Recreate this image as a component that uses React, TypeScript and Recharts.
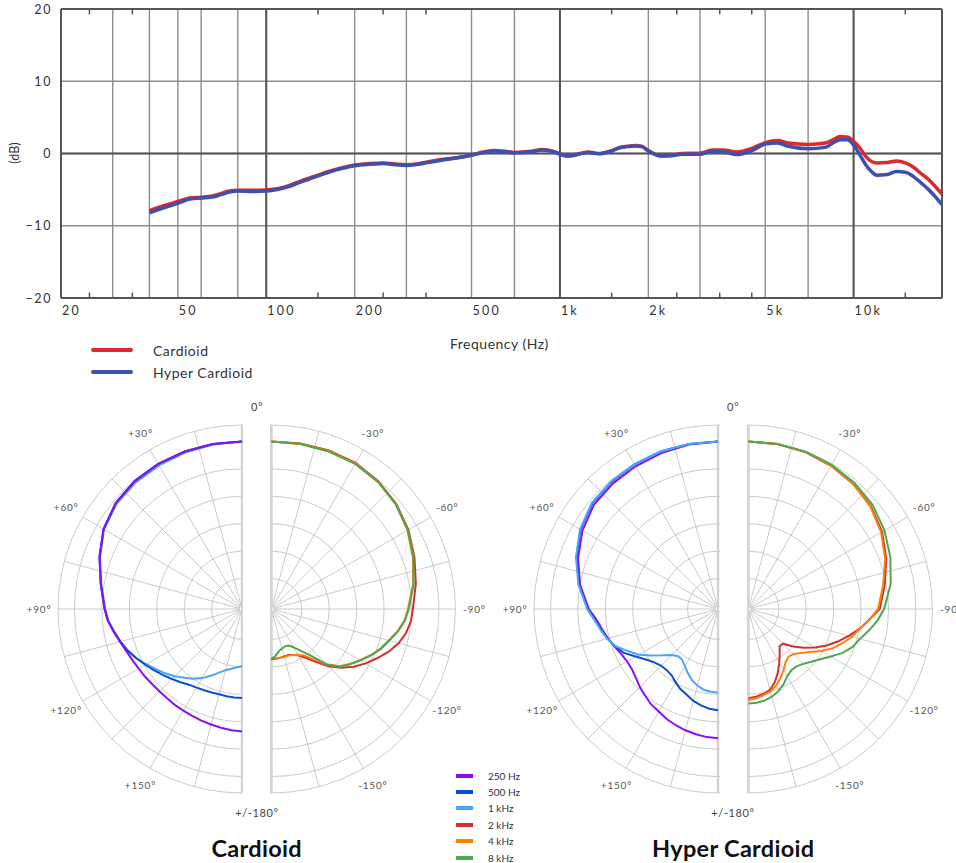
import {
  LineChart, Line, XAxis, YAxis, CartesianGrid, ReferenceLine, Legend,
  RadarChart, Radar, PolarGrid, PolarAngleAxis, PolarRadiusAxis,
} from 'recharts'

// ---- frequency response ----
const FREQ = [
  40, 45, 50, 55, 60, 66, 70, 75, 80, 90,
  100, 110, 120, 130, 140, 150, 160, 180, 200, 225,
  250, 275, 300, 330, 350, 400, 450, 500, 550, 600,
  650, 700, 750, 800, 870, 950, 1000, 1050, 1100, 1200,
  1250, 1350, 1500, 1600, 1700, 1800, 1900, 2000, 2200, 2400,
  2600, 3000, 3300, 3600, 4000, 4500, 5000, 5500, 6000, 7000,
  8000, 8500, 9000, 9500, 10000, 10500, 11000, 11500, 12000, 13000,
  14000, 15000, 16000, 17000, 18000, 19000, 20000,
]
const CARDIOID_DB = [
  -7.9, -7.2, -6.65, -6.15, -6.05, -5.85, -5.55, -5.2, -5.1, -5.1,
  -5.05, -4.85, -4.4, -3.85, -3.4, -3.0, -2.6, -2.0, -1.6, -1.4,
  -1.3, -1.45, -1.55, -1.4, -1.2, -0.8, -0.55, -0.2, 0.2, 0.4,
  0.3, 0.15, 0.2, 0.3, 0.55, 0.3, -0.05, -0.3, -0.25, 0.1,
  0.2, 0.0, 0.4, 0.85, 1.0, 1.1, 1.0, 0.4, -0.3, -0.25,
  0.0, 0.05, 0.5, 0.5, 0.2, 0.7, 1.5, 1.8, 1.45, 1.25,
  1.45, 1.9, 2.35, 2.3, 1.7, 0.8, -0.4, -1.1, -1.3, -1.25,
  -1.05, -1.3, -1.9, -2.8, -3.6, -4.6, -5.6,
]
const HYPER_DB = [
  -8.2, -7.5, -6.9, -6.3, -6.15, -6.0, -5.7, -5.35, -5.2, -5.25,
  -5.2, -4.95, -4.55, -4.0, -3.55, -3.1, -2.7, -2.1, -1.7, -1.5,
  -1.4, -1.55, -1.65, -1.5, -1.3, -0.9, -0.6, -0.25, 0.15, 0.35,
  0.25, 0.1, 0.15, 0.25, 0.5, 0.25, -0.1, -0.35, -0.3, 0.05,
  0.15, -0.05, 0.35, 0.8, 0.95, 1.05, 0.95, 0.35, -0.35, -0.3,
  -0.1, -0.1, 0.3, 0.25, -0.15, 0.4, 1.3, 1.45, 1.0, 0.65,
  0.85, 1.45, 1.9, 1.9, 1.2, -0.2, -1.55, -2.5, -3.0, -2.9,
  -2.5, -2.6, -3.2, -4.1, -5.0, -6.0, -7.1,
]
const GRID_FREQ = [20, 30, 40, 50, 60, 70, 80, 90, 100, 200, 300, 400, 500, 600, 700, 800, 900,
  1000, 2000, 3000, 4000, 5000, 6000, 7000, 8000, 9000, 10000]
const LABEL_FREQ = [20, 50, 100, 200, 500, 1000, 2000, 5000, 10000]
const DECADE_FREQ = [100, 1000, 10000]
const MINOR_FREQ = [25, 35, 150, 250, 350, 1500, 2500, 3500, 4500, 15000]
const DB_TICKS = [-20, -10, 0, 10, 20]

const responseRows = FREQ.map((f, i) => ({ freq: f, cardioid: CARDIOID_DB[i], hyper: HYPER_DB[i] }))

// ---- polar patterns (degrees off axis, dB) ----
const ANGLES = [0, 10, 20, 30, 40, 50, 60, 70, 80, 90, 95, 100, 105, 110, 115, 120, 125, 130, 135, 140,
  145, 150, 155, 160, 165, 170, 175, 180]

const CARD_250 = [0, 0, 0, 0, -0.1, -0.5, -1.4, -2.9, -4.4, -5.5, -6.0, -6.8, -7.5, -8.1, -8.5, -8.8, -9.0, -9.2, -9.3, -9.3,
  -9.2, -9.15, -9.05, -8.9, -8.75, -8.55, -8.35, -8.2]
const CARD_500 = [0, 0, 0, 0, -0.1, -0.5, -1.4, -2.9, -4.4, -5.5, -6.0, -6.8, -7.6, -8.4, -9.3, -10.2, -11.0, -11.8, -12.5, -13.1,
  -13.7, -14.0, -14.2, -14.35, -14.45, -14.4, -14.35, -14.3]
const CARD_1K = [0, -0.1, -0.2, -0.3, -0.4, -0.7, -1.5, -3.0, -4.5, -5.6, -6.1, -6.9, -7.6, -8.3, -9.3, -10.4, -11.4, -12.3, -13.2, -14.2,
  -15.0, -16.0, -17.1, -18.2, -19.0, -19.5, -19.9, -20.1]
const CARD_2K = [0, 0.1, 0.2, 0.2, -0.2, -0.8, -1.7, -2.8, -3.8, -4.75, -5.0, -5.6, -6.5, -7.8, -9.3, -10.7, -12.2, -13.9, -15.8, -18.0,
  -19.7, -20.8, -21.3, -21.6, -21.6, -21.5, -21.45, -21.4]
const CARD_4K = [0, 0, 0.1, 0.1, -0.3, -0.9, -1.9, -3.1, -4.3, -5.65, -6.2, -7.2, -8.4, -9.4, -10.6, -11.9, -13.1, -14.3, -16.3, -18.5,
  -20.2, -20.9, -21.3, -21.5, -21.5, -21.5, -21.55, -21.6]
const CARD_8K = [0, 0, 0, 0, -0.3, -0.9, -1.8, -3.0, -4.2, -5.5, -6.1, -7.1, -8.3, -9.3, -10.5, -11.8, -13.0, -14.2, -16.2, -19.5,
  -21.3, -22.5, -23.2, -23.3, -23.1, -22.7, -22.0, -21.4]

const HYP_250 = [0, -0.1, -0.3, -0.5, -0.7, -1.0, -2.0, -3.4, -5.0, -7.0, -8.3, -9.1, -9.8, -10.5, -11.1, -11.4, -11.4, -11.0, -10.4, -9.9,
  -9.3, -8.95, -8.4, -8.0, -7.65, -7.35, -7.1, -7.0]
const HYP_500 = [0, 0, 0, -0.1, -0.3, -0.6, -1.6, -3.1, -4.8, -6.8, -8.0, -8.9, -9.7, -10.6, -11.6, -13.2, -14.5, -15.4, -15.9, -16.0,
  -15.8, -15.1, -14.4, -13.9, -13.2, -12.7, -12.3, -12.1]
const HYP_1K = [0, 0, 0, -0.1, -0.2, -0.5, -1.5, -3.0, -4.7, -6.7, -7.9, -8.8, -9.6, -10.7, -12.4, -13.9, -15.8, -17.4, -18.7, -19.3,
  -19.2, -18.5, -17.6, -16.7, -16.1, -15.6, -15.4, -15.3]
const HYP_2K = [0, 0, -0.1, -0.4, -0.8, -1.4, -2.4, -3.8, -5.3, -6.6, -8.4, -9.9, -11.6, -13.2, -14.8, -16.5, -18.2, -19.9, -21.6, -21.7,
  -20.6, -19.3, -17.8, -16.4, -15.3, -14.8, -14.5, -14.3]
const HYP_4K = [0, 0, -0.1, -0.4, -0.8, -1.5, -2.6, -4.0, -5.6, -6.9, -8.4, -9.9, -11.0, -12.3, -13.6, -15.2, -16.9, -18.1, -18.9, -19.2,
  -18.7, -17.7, -16.7, -15.7, -15.0, -14.6, -14.2, -13.9]
const HYP_8K = [0, 0, 0, -0.2, -0.5, -1.0, -1.9, -3.0, -4.2, -5.8, -6.9, -8.2, -9.5, -10.3, -11.6, -13.2, -14.6, -15.6, -16.4, -16.9,
  -16.9, -16.4, -15.4, -14.6, -14.0, -13.6, -13.4, -13.3]

const SPOKES = [0, 15, 30, 45, 60, 75, 90, 105, 120, 135, 150, 165, 180]
const RINGS = [-30, -25, -20, -15, -10, -5, 0, 3]
const RING_LABELS = [-30, -25, -20, -15, -10, -5, 0]

const BANDS = [
  { key: 'f250', name: '250 Hz', color: '#8a0ff5' },
  { key: 'f500', name: '500 Hz', color: '#0a4fd4' },
  { key: 'f1k', name: '1 kHz', color: '#4aa6fb' },
  { key: 'f2k', name: '2 kHz', color: '#d42f2f' },
  { key: 'f4k', name: '4 kHz', color: '#fb8008' },
  { key: 'f8k', name: '8 kHz', color: '#4fa84f' },
]
const band = (k: string) => BANDS.find(b => b.key === k)!

function polarRows(series: Record<string, number[]>) {
  const rows = ANGLES.map((a, i) => {
    const row: Record<string, number> = { angle: a }
    for (const k of Object.keys(series)) row[k] = series[k][i]
    return row
  })
  // Radar always closes its outline, so trace 0->180 and back over itself;
  // the closing segment then has zero length instead of running down the centre line
  return [...rows, ...rows.slice().reverse()]
}

const cardLeft = polarRows({ f250: CARD_250, f500: CARD_500, f1k: CARD_1K })
const cardRight = polarRows({ f2k: CARD_2K, f4k: CARD_4K, f8k: CARD_8K })
const hypLeft = polarRows({ f250: HYP_250, f500: HYP_500, f1k: HYP_1K })
const hypRight = polarRows({ f2k: HYP_2K, f4k: HYP_4K, f8k: HYP_8K })
const scaleRows = [{ angle: 0 }, { angle: 180 }]

const FONT = 'Lato, "Open Sans", sans-serif'
const POLAR_CY = 609
const HALF_BOX = 232
const OUTER_R = 184

const fmtFreq = (f: number) => (f >= 1000 ? `${f / 1000}k` : `${f}`)
const fmtDb = (v: number) => (v < 0 ? `\u2212${-v}` : `${v}`)

const renderFreqTick = (p: any) => {
  if (!LABEL_FREQ.includes(p.payload.value)) return <g />
  return (
    <text x={p.x + 1} y={p.y} dy="0.75em" textAnchor="start" fontSize={12.5} fill="#333" letterSpacing={2.2} fontFamily={FONT}>
      {fmtFreq(p.payload.value)}
    </text>
  )
}

const renderDbTick = (p: any) => (
  <text x={p.x} y={p.y} textAnchor="end" dominantBaseline="central" fontSize={12.5} fill="#333" letterSpacing={1.6} fontFamily={FONT}>
    {fmtDb(p.payload.value)}
  </text>
)

const lineLegend = (props: any) => (
  <div style={{ fontFamily: FONT }}>
    {(props.payload || []).map((entry: any) => (
      <div key={entry.value} style={{ display: 'flex', alignItems: 'center', height: 22 }}>
        <span style={{ display: 'inline-block', width: 42, height: 3.5, borderRadius: 2, background: entry.color }} />
        <span style={{ marginLeft: 20, fontSize: 14, letterSpacing: 0.5, color: '#333' }}>{entry.value}</span>
      </div>
    ))}
  </div>
)

function ResponseChart() {
  return (
    <div style={{ position: 'absolute', left: 0, top: 0 }}>
      <LineChart width={956} height={330} data={responseRows} margin={{ top: 9, right: 14, bottom: 2, left: 0 }}>
        <CartesianGrid stroke="#8d8d8d" strokeWidth={1.4} />
        <XAxis dataKey="freq" type="number" scale="log" domain={[20, 20000]} ticks={GRID_FREQ}
          allowDataOverflow height={30} tickLine={false} axisLine={false} tick={renderFreqTick} />
        <YAxis type="number" domain={[-20, 20]} ticks={DB_TICKS} width={61} tickLine={false} axisLine={false}
          tickSize={0} tickMargin={9} tick={renderDbTick} />
        {DECADE_FREQ.map(f => <ReferenceLine key={f} x={f} stroke="#555" strokeWidth={2} />)}
        <ReferenceLine y={0} stroke="#555" strokeWidth={2} />
        <ReferenceLine x={20} stroke="#555" strokeWidth={2} />
        <ReferenceLine x={20000} stroke="#555" strokeWidth={2} />
        <ReferenceLine y={20} stroke="#555" strokeWidth={2} />
        <ReferenceLine y={-20} stroke="#555" strokeWidth={2} />
        {MINOR_FREQ.map(f => (
          <ReferenceLine key={`t${f}`} segment={[{ x: f, y: 20 }, { x: f, y: 19.25 }]} stroke="#555" strokeWidth={1.5} />
        ))}
        {MINOR_FREQ.map(f => (
          <ReferenceLine key={`b${f}`} segment={[{ x: f, y: -20 }, { x: f, y: -19.25 }]} stroke="#555" strokeWidth={1.5} />
        ))}
        <Line type="monotone" dataKey="cardioid" name="Cardioid" stroke="#db2a2c" strokeWidth={3.5} dot={false} isAnimationActive={false} />
        <Line type="monotone" dataKey="hyper" name="Hyper Cardioid" stroke="#3e4fae" strokeWidth={3.5} dot={false} isAnimationActive={false} />
        <Legend layout="vertical" align="center" verticalAlign="middle" content={lineLegend}
          wrapperStyle={{ left: 91, top: 339, width: 240 }} />
      </LineChart>
      <div style={{ position: 'absolute', left: 14, top: 153, transform: 'translate(-50%, -50%) rotate(-90deg)', fontSize: 12.5, color: '#333', fontFamily: FONT }}>
        (dB)
      </div>
      <div style={{ position: 'absolute', left: 450, top: 335, fontSize: 14, letterSpacing: 0.5, color: '#333', fontFamily: FONT, whiteSpace: 'nowrap' }}>
        Frequency (Hz)
      </div>
    </div>
  )
}

function angleTick(sign: string) {
  return (p: any) => {
    const v = p.payload.value
    if (v % 30 !== 0 || v === 0 || v === 180) return <g />
    return (
      <text x={p.x} y={p.y} textAnchor="middle" dominantBaseline="central" fontSize={10} fill="#555" letterSpacing={0.8} fontFamily={FONT}>
        {`${sign}${v}\u00b0`}
      </text>
    )
  }
}

function PolarHalf({ side, cx, rows, bands }: { side: 'left' | 'right'; cx: number; rows: any[]; bands: typeof BANDS }) {
  const isLeft = side === 'left'
  const boxWidth = HALF_BOX + 1.4
  const boxLeft = isLeft ? cx - HALF_BOX : cx - 1.4
  const localCx = isLeft ? HALF_BOX : 1.4
  const start = 90
  const end = isLeft ? 270 : -90
  return (
    <div style={{ position: 'absolute', left: boxLeft, top: POLAR_CY - HALF_BOX, width: boxWidth, height: HALF_BOX * 2, overflow: 'hidden' }}>
      <RadarChart width={boxWidth} height={HALF_BOX * 2} data={rows} cx={localCx} cy={HALF_BOX}
        innerRadius={3} outerRadius={OUTER_R} startAngle={start} endAngle={end}
        margin={{ top: 0, right: 0, bottom: 0, left: 0 }}>
        <PolarGrid gridType="circle" stroke="#bdbdbd" strokeWidth={0.8} />
        <PolarGrid gridType="polygon" polarAngles={[start, end]} polarRadius={[OUTER_R]} stroke="#d2d2d2" strokeWidth={2.2} />
        <PolarAngleAxis dataKey="angle" type="number" domain={[0, 180]} ticks={SPOKES} tickSize={19}
          tickLine={false} axisLine={false} tick={angleTick(isLeft ? '+' : '-')} />
        <PolarRadiusAxis type="number" domain={[-30, 3]} ticks={RINGS} tick={false} axisLine={false} />
        {bands.map(b => (
          <Radar key={b.key} dataKey={b.key} name={b.name} stroke={b.color} strokeWidth={2} fill="none"
            fillOpacity={0} dot={false} isAnimationActive={false} />
        ))}
      </RadarChart>
    </div>
  )
}

const cardinalTick = (p: any) => (
  <text x={p.x} y={p.y} textAnchor="middle" dominantBaseline="central" fontSize={11} fill="#444" letterSpacing={0.6} fontFamily={FONT}>
    {p.payload.value === 0 ? '0\u00b0' : '+/-180\u00b0'}
  </text>
)

const ringTick = (p: any) => (
  <text x={p.x} y={p.y - 2} textAnchor="middle" dominantBaseline="central" fontSize={11} fill="#444" letterSpacing={1.2} fontFamily={FONT}>
    {p.payload.value < 0 ? `- ${-p.payload.value}` : `${p.payload.value}`}
  </text>
)

function PolarScale({ cx }: { cx: number }) {
  return (
    <div style={{ position: 'absolute', left: cx - 60, top: POLAR_CY - HALF_BOX, width: 120, height: HALF_BOX * 2 }}>
      <RadarChart width={120} height={HALF_BOX * 2} data={scaleRows} cx={60} cy={HALF_BOX}
        innerRadius={3} outerRadius={OUTER_R} startAngle={90} endAngle={-270}
        margin={{ top: 0, right: 0, bottom: 0, left: 0 }}>
        <PolarAngleAxis dataKey="angle" type="number" domain={[0, 360]} ticks={[0, 180]} tickSize={19}
          tickLine={false} axisLine={false} tick={cardinalTick} />
        <PolarRadiusAxis angle={90} type="number" domain={[-30, 3]} ticks={RING_LABELS}
          axisLine={false} tickLine={false} tick={ringTick} />
      </RadarChart>
    </div>
  )
}

function PolarFigure({ title, leftCx, rightCx, left, right, leftOrder }: {
  title: string; leftCx: number; rightCx: number; left: any[]; right: any[]; leftOrder: string[]
}) {
  const mid = (leftCx + rightCx) / 2
  return (
    <>
      <PolarHalf side="left" cx={leftCx} rows={left} bands={leftOrder.map(band)} />
      <PolarHalf side="right" cx={rightCx} rows={right} bands={['f2k', 'f4k', 'f8k'].map(band)} />
      <PolarScale cx={mid} />
      <div style={{ position: 'absolute', left: mid - 150, width: 300, top: 834, lineHeight: '28px', textAlign: 'center', fontSize: 23.5, letterSpacing: 0.3, fontWeight: 700, color: '#111', fontFamily: FONT }}>
        {title}
      </div>
    </>
  )
}

function BandLegend() {
  return (
    <div style={{ position: 'absolute', left: 456, top: 767.5, fontFamily: FONT }}>
      {BANDS.map(b => (
        <div key={b.key} style={{ display: 'flex', alignItems: 'center', height: 16.4 }}>
          <span style={{ display: 'inline-block', width: 17, height: 4, background: b.color }} />
          <span style={{ marginLeft: 15, fontSize: 10, color: '#333' }}>{b.name}</span>
        </div>
      ))}
    </div>
  )
}

export default function App() {
  return (
    <div style={{ position: 'absolute', left: 0, top: 0, width: 956, height: 863, background: '#fff', overflow: 'hidden', fontFamily: FONT }}>
      <ResponseChart />
      <PolarFigure title="Cardioid" leftCx={241.7} rightCx={271.7} left={cardLeft} right={cardRight}
        leftOrder={['f1k', 'f500', 'f250']} />
      <PolarFigure title="Hyper Cardioid" leftCx={718.3} rightCx={748.3} left={hypLeft} right={hypRight}
        leftOrder={['f250', 'f500', 'f1k']} />
      <BandLegend />
    </div>
  )
}
